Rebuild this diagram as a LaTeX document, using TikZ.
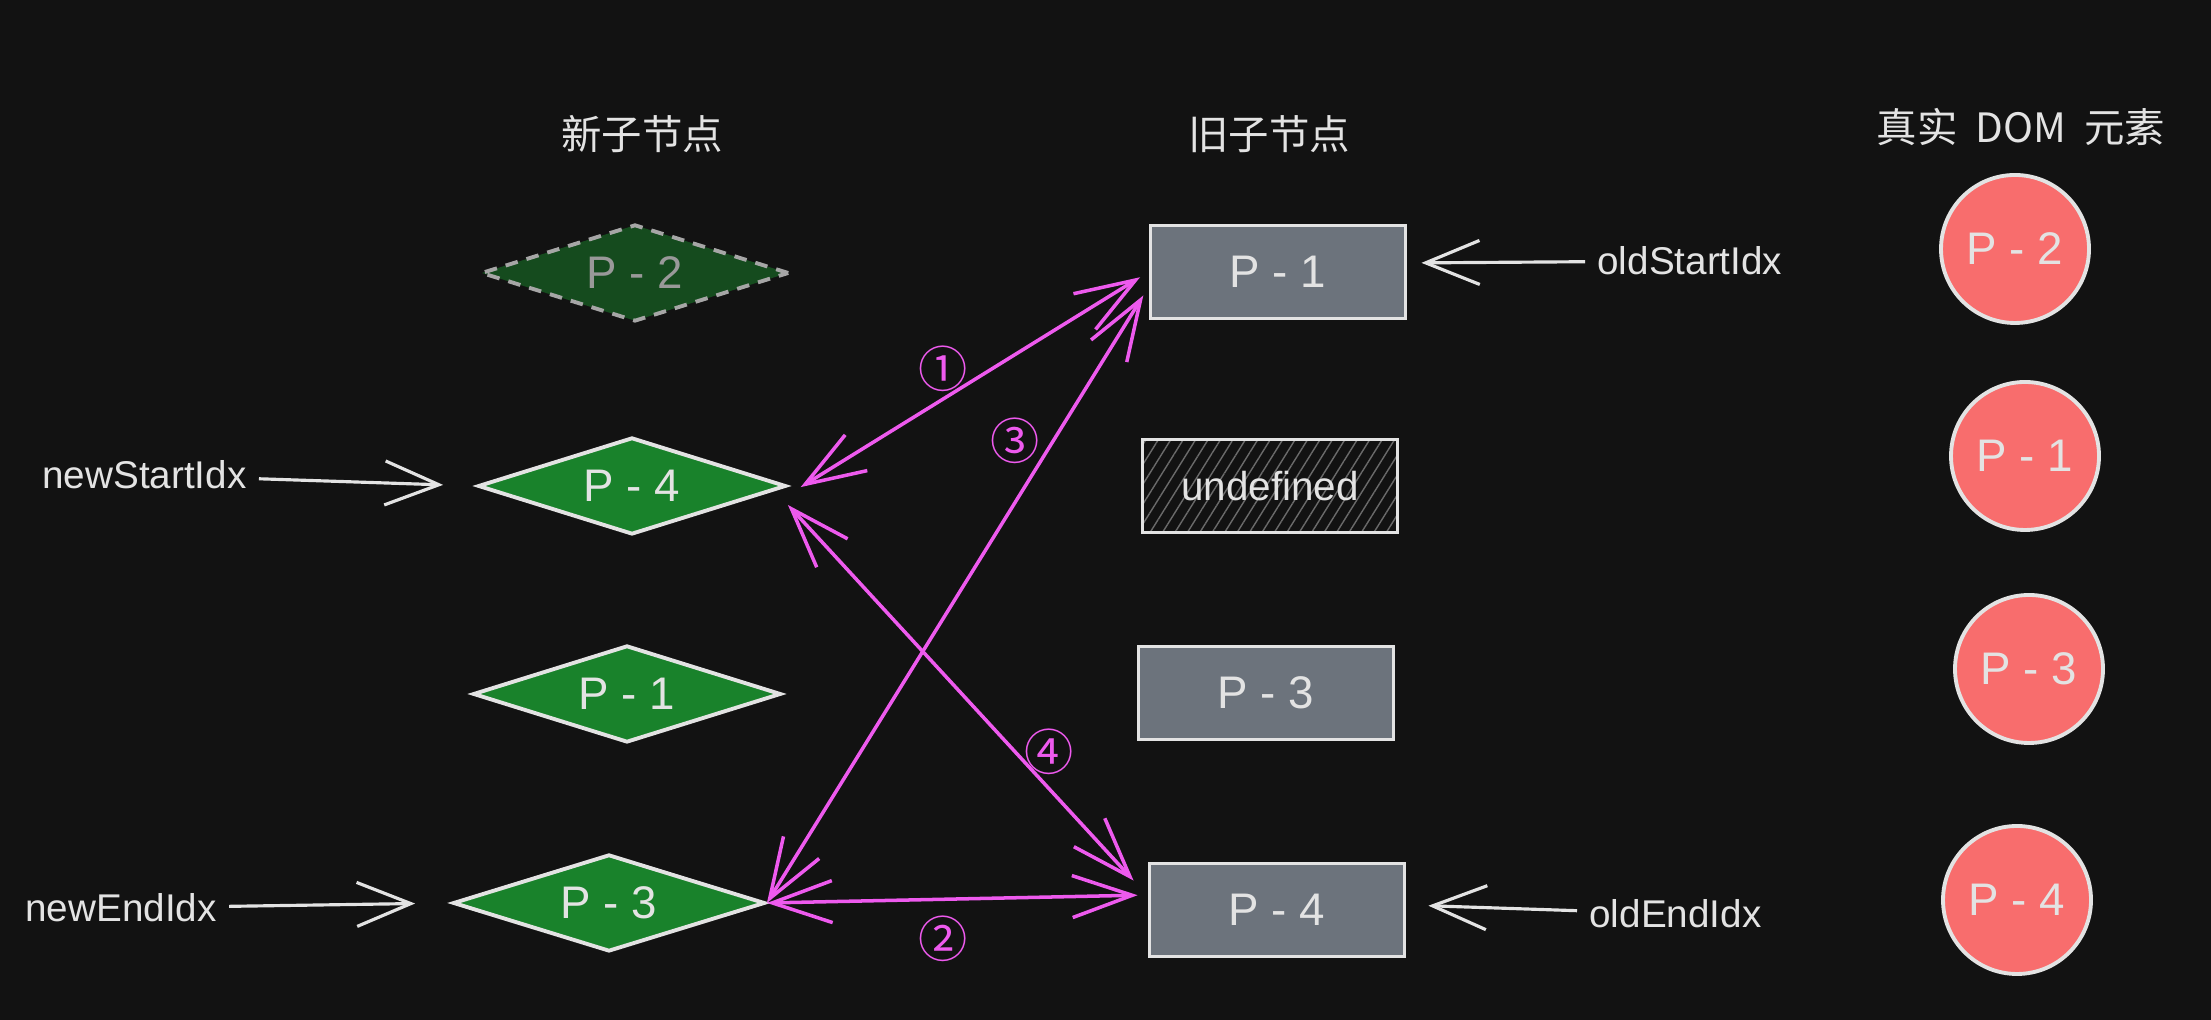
\documentclass[tikz,border=0pt]{standalone}
\usepackage{fontspec}
\setmainfont{Liberation Sans}
\newfontfamily\cjk{Noto Sans CJK SC}
\usetikzlibrary{arrows.meta,shapes.geometric,patterns.meta}
\definecolor{bg}{HTML}{121212}
\definecolor{ink}{HTML}{E3E3E3}
\definecolor{vnode}{HTML}{19822B}
\definecolor{vgone}{HTML}{154B1E}
\definecolor{oldgray}{HTML}{6C737C}
\definecolor{dom}{HTML}{F86D6D}
\definecolor{hit}{HTML}{EE5AEE}
\definecolor{hatch}{HTML}{6A6A6A}

\begin{document}
\begin{tikzpicture}[
  vn/.style={diamond, aspect=3.2, draw=ink, line width=1.1pt, fill=vnode, inner sep=0pt,
             minimum width=30.8mm, minimum height=9.7mm, text=ink,
             font=\fontsize{13}{15}\selectfont},
  vngone/.style={vn, draw=black!35!white, fill=vgone, text=black!40!white,
                 dash pattern=on 3.6pt off 2.6pt},
  on/.style={draw=ink, line width=1.1pt, fill=oldgray, minimum width=25.5mm,
             minimum height=9.3mm, text=ink, font=\fontsize{13}{15}\selectfont},
  onvoid/.style={on, fill=none, pattern={Lines[angle=58,distance=3pt,line width=.4pt]},
                 pattern color=hatch, font=\fontsize{11.5}{13}\selectfont},
  el/.style={circle, draw=ink, line width=1.1pt, fill=dom, minimum size=14.8mm,
             text=ink, font=\fontsize{13}{15}\selectfont},
  head/.style={text=ink, font=\cjk\fontsize{11.5}{14}\selectfont},
  idx/.style={text=ink, font=\fontsize{11}{13}\selectfont},
  ptr/.style={-{Straight Barb[length=5.4mm,width=4.4mm]}, ink, line width=.9pt},
  pair/.style={{Straight Barb[length=6mm,width=4.2mm]}-{Straight Barb[length=6mm,width=4.2mm]},
               hit, line width=1pt},
  num/.style={text=hit, font=\cjk\fontsize{14}{16}\selectfont}
]
\fill[bg] (0,0) rectangle (22.11,10.20);
\useasboundingbox (0,0) rectangle (22.11,10.20);

\node[head] (tnew) at (6.42,8.86) {新子节点};
\node[head] (told) at (12.69,8.86) {旧子节点};
\node[head] (tdom) at (20.21,8.93) {真实\hspace{.45em}DOM\hspace{.45em}元素};

\node[vngone] (n2) at (6.35,7.47) {P - 2};
\node[vn] (n4) at (6.32,5.34) {P - 4};
\node[vn] (n1) at (6.27,3.26) {P - 1};
\node[vn, minimum width=31.2mm] (n3) at (6.09,1.17) {P - 3};

\node[on] (o1) at (12.78,7.48) {P - 1};
\node[onvoid] (ou) at (12.70,5.34) {undefined};
\node[on] (o3) at (12.66,3.27) {P - 3};
\node[on] (o4) at (12.77,1.10) {P - 4};

\node[el] (d2) at (20.15,7.71) {P - 2};
\node[el] (d1) at (20.25,5.64) {P - 1};
\node[el] (d3) at (20.29,3.51) {P - 3};
\node[el] (d4) at (20.17,1.20) {P - 4};

\node[idx, anchor=west] (ns) at (0.30,5.45) {newStartIdx};
\node[idx, anchor=west] (ne) at (0.13,1.12) {newEndIdx};
\node[idx, anchor=west] (os) at (15.85,7.59) {oldStartIdx};
\node[idx, anchor=west] (oe) at (15.77,1.06) {oldEndIdx};
\draw[ptr, shorten >=3.3mm] (ns) -- (n4.west);
\draw[ptr, shorten >=3.6mm] (ne) -- (n3.west);
\draw[ptr, shorten >=1.4mm] (os) -- ([yshift=.9mm]o1.east);
\draw[ptr, shorten >=2.2mm] (oe) -- ([yshift=.5mm]o4.east);

\draw[pair, shorten <=1.5mm, shorten >=1mm] ([yshift=-.9mm]n4.east) -- (o1.west);
\draw[pair, shorten >=1mm] (n3.east) -- ([yshift=1.5mm]o4.west);
\draw[pair, shorten >=1mm] (n3.east) -- ([yshift=-1.5mm]o1.west);
\draw[pair] ([yshift=-1.9mm]n4.east) -- ([xshift=-1.4mm,yshift=-1.9mm]o4.north west);

\node[num] (c1) at (9.43,6.51) {①};
\node[num] (c3) at (10.15,5.79) {③};
\node[num] (c4) at (10.49,2.68) {④};
\node[num] (c2) at (9.43,0.81) {②};
\end{tikzpicture}
\end{document}
